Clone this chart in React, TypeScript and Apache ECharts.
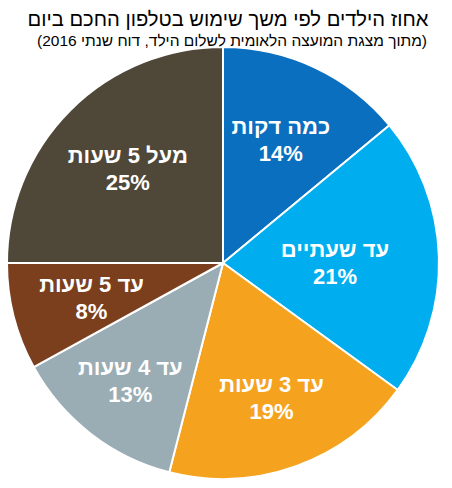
import React, { useEffect, useRef } from "react";
import * as echarts from "echarts";

const titleText = "אחוז הילדים לפי משך שימוש בטלפון החכם ביום";
const subtitleText = "(מתוך מצגת המועצה הלאומית לשלום הילד, דוח שנתי 2016)";
const categories = ["כמה דקות", "עד שעתיים", "עד 3 שעות", "עד 4 שעות", "עד 5 שעות", "מעל 5 שעות"];
const values = [14, 21, 19, 13, 8, 25];
const colors = ["#0B6FBF", "#00AEEF", "#F5A31F", "#9AADB4", "#7B3F1E", "#4F4838"];
const labelNudges = [
  [-3, 6],
  [-31, 4],
  [0, 0],
  [-5, 5],
  [7, -1],
  [6, 7],
];

export default function App() {
  const ref = useRef<HTMLDivElement>(null);
  useEffect(() => {
    if (!ref.current) return;
    const chart = echarts.init(ref.current, undefined, { renderer: "svg" });
    const font = "'Liberation Sans', Arial, sans-serif";
    const baseData = categories.map((c, i) => ({
      name: c,
      value: values[i],
      itemStyle: { color: colors[i] },
    }));
    const labelData = categories.map((c, i) => ({
      name: c,
      value: values[i],
    }));
    chart.setOption({
      animation: false,
      title: [
        {
          text: titleText,
          left: 223,
          top: 4,
          textAlign: "center",
          textStyle: { fontFamily: font, fontSize: 20.2, fontWeight: "normal", color: "#000" },
        },
        {
          text: subtitleText,
          left: 227,
          top: 27,
          textAlign: "center",
          textStyle: { fontFamily: font, fontSize: 15.5, fontWeight: "normal", color: "#000" },
        },
      ],
      series: [
        {
          type: "pie",
          center: [223, 263],
          radius: [0, 216],
          startAngle: 90,
          clockwise: true,
          label: { show: false },
          labelLine: { show: false },
          emphasis: { disabled: true },
          itemStyle: { borderColor: "#fff", borderWidth: 2 },
          data: baseData,
        },
        {
          type: "pie",
          center: [223, 263],
          radius: [0, 280],
          startAngle: 90,
          clockwise: true,
          silent: true,
          z: 5,
          itemStyle: { color: "transparent", borderWidth: 0 },
          labelLine: { show: false },
          emphasis: { disabled: true },
          label: {
            show: true,
            position: "inside",
            formatter: (p: any) => `${p.name}\n${p.value}%`,
            color: "#fff",
            fontFamily: font,
            fontSize: 22,
            fontWeight: "bold",
            lineHeight: 27,
            align: "center",
          },
          labelLayout: (p: any) => ({
            dx: labelNudges[p.dataIndex][0],
            dy: labelNudges[p.dataIndex][1],
          }),
          data: labelData,
        },
      ],
    });
    return () => chart.dispose();
  }, []);
  return (
    <div
      ref={ref}
      style={{ position: "absolute", left: 0, top: 0, width: 452, height: 488, background: "#fff" }}
    />
  );
}
